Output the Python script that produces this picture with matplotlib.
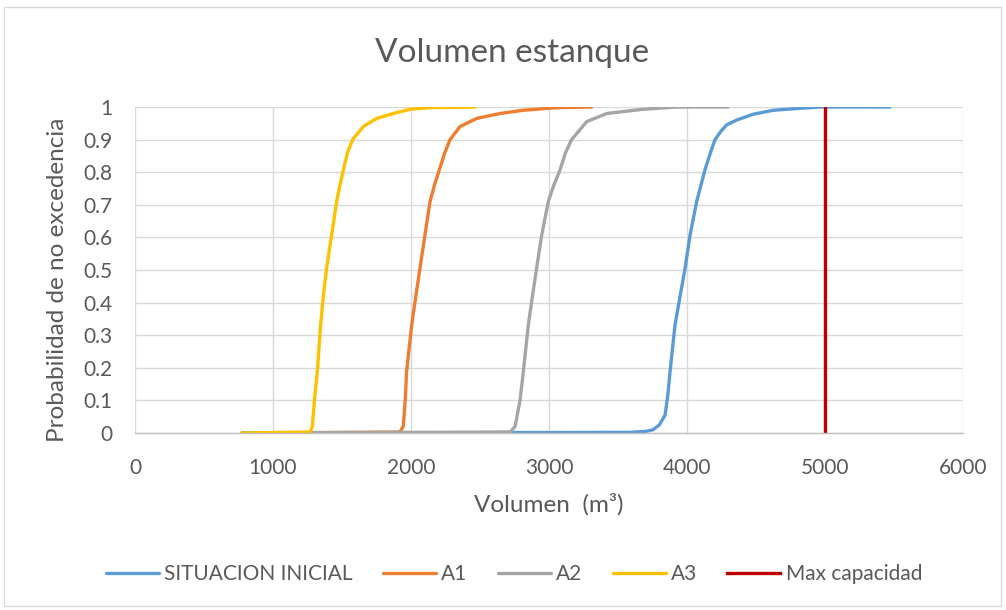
import matplotlib
matplotlib.use("Agg")
import matplotlib.pyplot as plt
from matplotlib.patches import Rectangle

plt.rcParams['font.family'] = ['Lato', 'DejaVu Sans']

# Exceedance curves: volume (m3) vs. probability of non-exceedance
inicial_x = [775, 3587, 3700, 3754, 3800, 3841, 3862, 3877, 3913, 3950, 3986, 4022, 4070, 4130, 4170, 4203,
             4245, 4287, 4360, 4481, 4626, 4819, 4964, 5471]
inicial_y = [0.0, 0.002, 0.005, 0.01, 0.025, 0.055, 0.12, 0.188, 0.331, 0.42, 0.505, 0.607, 0.71, 0.807, 0.86, 0.9,
             0.925, 0.945, 0.96, 0.978, 0.99, 0.996, 1.0, 1.0]

a1_x = [775, 1920, 1944, 1958, 1968, 2005, 2035, 2065, 2101, 2138, 2170, 2205, 2245, 2283, 2355, 2476, 2645,
        2812, 3056, 3309]
a1_y = [0.0, 0.003, 0.02, 0.1, 0.188, 0.331, 0.42, 0.505, 0.607, 0.71, 0.76, 0.807, 0.86, 0.9, 0.94, 0.965, 0.98,
        0.99, 0.998, 1.0]

a2_x = [775, 2720, 2754, 2790, 2814, 2850, 2880, 2910, 2947, 2995, 3035, 3080, 3120, 3164, 3273, 3418, 3681,
        3925, 4297]
a2_y = [0.0, 0.003, 0.02, 0.1, 0.188, 0.331, 0.42, 0.505, 0.607, 0.71, 0.76, 0.807, 0.86, 0.9, 0.955, 0.98, 0.993,
        1.0, 1.0]

a3_x = [775, 1268, 1285, 1300, 1321, 1345, 1365, 1388, 1425, 1461, 1485, 1510, 1540, 1577, 1655, 1751, 1872,
        1993, 2138, 2464]
a3_y = [0.0, 0.003, 0.02, 0.1, 0.188, 0.331, 0.42, 0.505, 0.607, 0.71, 0.76, 0.807, 0.86, 0.9, 0.94, 0.965, 0.98,
        0.993, 0.998, 1.0]

max_cap_x = [5000, 5000]
max_cap_y = [0, 1]

x_ticks = [0, 1000, 2000, 3000, 4000, 5000, 6000]
y_ticks = [0, 0.1, 0.2, 0.3, 0.4, 0.5, 0.6, 0.7, 0.8, 0.9, 1]
y_tick_labels = ['0', '0.1', '0.2', '0.3', '0.4', '0.5', '0.6', '0.7', '0.8', '0.9', '1']

text_color = '#595959'
grid_color = '#D9D9D9'
W, H = 1006, 610

fig = plt.figure(figsize=(W / 100, H / 100), dpi=100)
fig.patches.append(Rectangle((4 / W, 1 - 606 / H), 997 / W, 599 / H,
                             transform=fig.transFigure, fill=False,
                             edgecolor='#D9D9D9', linewidth=1.0))

ax = fig.add_axes([135 / W, 1 - 433 / H, (963 - 135) / W, (433 - 107) / H])

lw = 2.4
ax.plot(inicial_x, inicial_y, color='#5B9BD5', lw=lw, label='SITUACION INICIAL',
        solid_capstyle='round', solid_joinstyle='round')
ax.plot(a1_x, a1_y, color='#ED7D31', lw=lw, label='A1', solid_capstyle='round', solid_joinstyle='round')
ax.plot(a2_x, a2_y, color='#A5A5A5', lw=lw, label='A2', solid_capstyle='round', solid_joinstyle='round')
ax.plot(a3_x, a3_y, color='#FFC000', lw=lw, label='A3', solid_capstyle='round', solid_joinstyle='round')
ax.plot(max_cap_x, max_cap_y, color='#C00000', lw=2.4, label='Max capacidad')

ax.set_xlim(0, 6000)
ax.set_ylim(0, 1)
ax.set_xticks(x_ticks)
ax.set_yticks(y_ticks)
ax.set_yticklabels(y_tick_labels)
ax.grid(True, color=grid_color, linewidth=1.0)
ax.set_axisbelow(True)
for side in ['top', 'right', 'left']:
    ax.spines[side].set_visible(False)
ax.spines['bottom'].set_color('#BFBFBF')
ax.spines['bottom'].set_linewidth(1.0)
ax.tick_params(length=0, labelsize=15, labelcolor=text_color)
ax.tick_params(axis='y', pad=16)
ax.tick_params(axis='x', pad=18)

fig.text(512 / W, 1 - 53 / H, 'Volumen estanque', fontsize=24, color=text_color,
         ha='center', va='center')
fig.text(549 / W, 1 - 504 / H, 'Volumen  (m³)', fontsize=17.5, color=text_color,
         ha='center', va='center')
fig.text(58 / W, 1 - 280 / H, 'Probabilidad de no excedencia', fontsize=17.5, color=text_color,
         ha='center', va='center', rotation=90)

fig.legend(loc='center', bbox_to_anchor=(514 / W, 1 - 574 / H), ncol=5, frameon=False,
           fontsize=15, labelcolor=text_color, handlelength=2.55, handletextpad=0.25,
           columnspacing=1.45)

fig.savefig('out.png', dpi=100)
